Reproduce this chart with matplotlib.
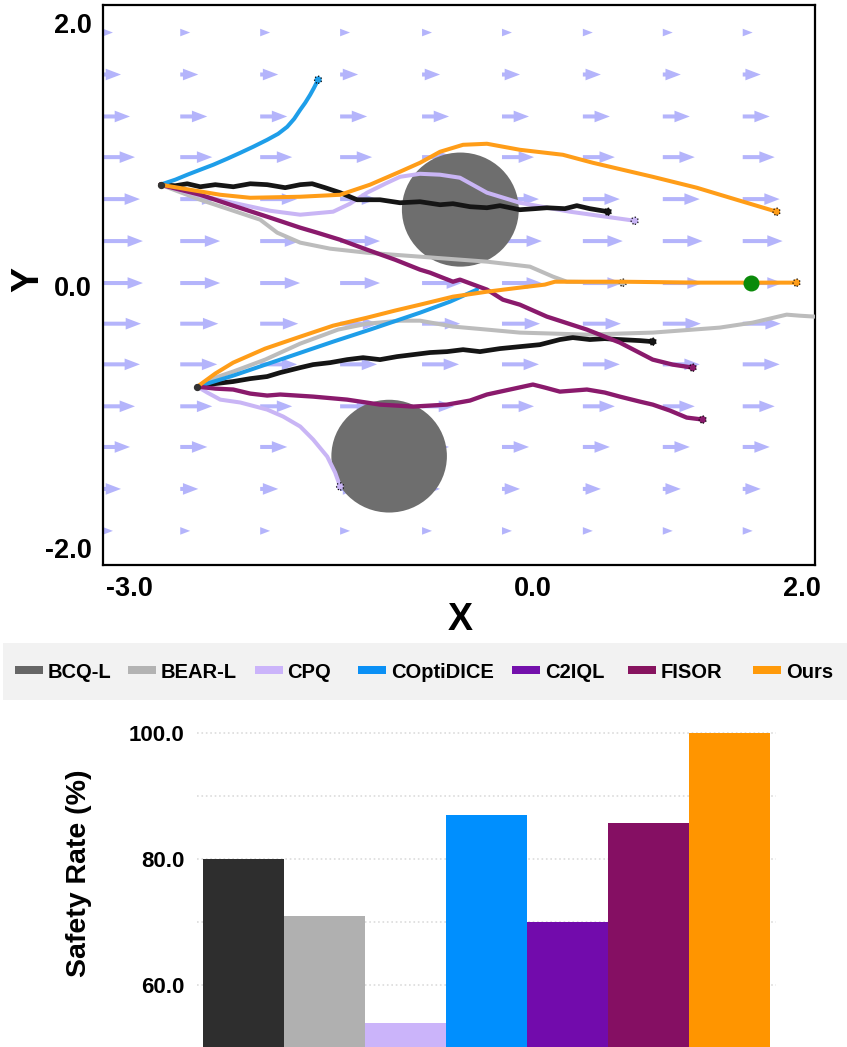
import matplotlib.pyplot as plt
from matplotlib.patches import Circle, Patch, Rectangle

plt.rcParams['font.family'] = ['Liberation Sans', 'DejaVu Sans']
plt.rcParams['font.weight'] = 'bold'

# bar chart data
methods = ['BCQ-L', 'BEAR-L', 'CPQ', 'COptiDICE', 'C2IQL', 'FISOR', 'Ours']
safety_rate = [80.0, 71.0, 54.0, 87.0, 70.0, 85.7, 100.0]
bar_colors = ['#2e2e2e', '#b0b0b0', '#cbb4fa', '#008ffe', '#720bac', '#850f63', '#ff9500']
legend_colors = ['#666666', '#b3b3b3', '#cbb4fa', '#0a90f5', '#7410ac', '#87145f', '#ff9a0a']
legend_left_px = [15, 128, 255, 358, 512, 628, 753]

# line colours of the trajectories
c_bcq = '#151515'
c_bear = '#bcbcbc'
c_cpq = '#c9b5f5'
c_coptidice = '#1e9ee9'
c_fisor = '#8a1a6c'
c_ours = '#ff9d18'

# background flow field (columns, rows, arrow length per row)
field_x = [-3.2, -2.625, -2.03, -1.435, -0.825, -0.23, 0.372, 0.967, 1.562]
field_y = [1.93, 1.61, 1.29, 0.98, 0.66, 0.34, 0.02, -0.29, -0.60, -0.92, -1.23, -1.55, -1.87]
field_speed = [0.074, 0.134, 0.201, 0.238, 0.275, 0.297, 0.297, 0.283, 0.275, 0.238, 0.201, 0.134, 0.074]

start_up = (-2.77, 0.77)
start_low = (-2.50, -0.77)
goal = (1.62, 0.02)
obstacle_x = [-0.54, -1.07]
obstacle_y = [0.58, -1.30]
obstacle_r = [0.435, 0.43]

# trajectories from the upper start
bcq_up_x = [-2.773, -2.662, -2.573, -2.476, -2.364, -2.230, -2.104, -1.978, -1.844, -1.732, -1.643,
            -1.547, -1.435, -1.309, -1.138, -0.989, -0.840, -0.691, -0.595, -0.468, -0.342, -0.245,
            -0.097, 0.015, 0.104, 0.238, 0.327, 0.424, 0.558]
bcq_up_y = [0.770, 0.762, 0.777, 0.754, 0.770, 0.754, 0.777, 0.770, 0.747, 0.770, 0.777,
            0.747, 0.709, 0.655, 0.655, 0.632, 0.640, 0.617, 0.625, 0.602, 0.594, 0.610,
            0.579, 0.587, 0.594, 0.587, 0.610, 0.587, 0.564]
bear_up_x = [-2.773, -2.476, -2.253, -2.030, -1.903, -1.732, -1.509, -1.234, -0.840, -0.342, -0.022,
             0.149, 0.253, 0.669]
bear_up_y = [0.770, 0.655, 0.579, 0.503, 0.404, 0.328, 0.282, 0.251, 0.221, 0.183, 0.145,
             0.069, 0.030, 0.023]
cpq_up_x = [-2.773, -2.476, -2.231, -1.956, -1.732, -1.487, -1.361, -1.234, -1.100, -0.989, -0.840,
            -0.691, -0.543, -0.342, -0.097, 0.275, 0.758]
cpq_up_y = [0.770, 0.686, 0.632, 0.571, 0.541, 0.564, 0.625, 0.709, 0.777, 0.830, 0.853,
            0.846, 0.823, 0.709, 0.632, 0.564, 0.495]
coptidice_up_x = [-2.773, -2.662, -2.572, -2.476, -2.379, -2.275, -2.178, -2.082, -1.978, -1.896,
                  -1.829, -1.777, -1.732, -1.695, -1.658, -1.629, -1.599]
coptidice_up_y = [0.770, 0.808, 0.846, 0.884, 0.922, 0.968, 1.013, 1.059, 1.112, 1.158,
                  1.211, 1.272, 1.341, 1.394, 1.455, 1.509, 1.570]
fisor_up_x = [-2.773, -2.476, -2.231, -1.978, -1.732, -1.606, -1.435, -1.234, -1.026, -0.840, -0.766,
              -0.595, -0.543, -0.342, -0.223, -0.097, 0.104, 0.402, 0.647, 0.892, 1.041, 1.190]
fisor_up_y = [0.770, 0.693, 0.610, 0.526, 0.442, 0.404, 0.350, 0.274, 0.198, 0.122, 0.099,
              0.030, 0.046, -0.030, -0.107, -0.145, -0.236, -0.335, -0.434, -0.564, -0.602, -0.625]
ours_up_x = [-2.773, -2.550, -2.327, -2.104, -1.732, -1.435, -1.212, -0.989, -0.840, -0.691, -0.520,
             -0.342, -0.097, 0.223, 0.446, 0.892, 1.219, 1.517, 1.814]
ours_up_y = [0.770, 0.731, 0.693, 0.670, 0.678, 0.693, 0.770, 0.869, 0.937, 1.021, 1.074,
             1.082, 1.036, 0.998, 0.937, 0.830, 0.747, 0.655, 0.564]

# trajectories from the lower start
bcq_low_x = [-2.498, -2.364, -2.231, -2.104, -1.978, -1.881, -1.732, -1.636, -1.509, -1.383, -1.264,
             -1.138, -1.011, -0.892, -0.766, -0.639, -0.520, -0.394, -0.245, -0.097, 0.052, 0.201,
             0.297, 0.424, 0.535, 0.647, 0.796, 0.892]
bcq_low_y = [-0.770, -0.747, -0.731, -0.709, -0.693, -0.663, -0.625, -0.602, -0.587, -0.564, -0.549,
             -0.564, -0.541, -0.526, -0.510, -0.503, -0.488, -0.503, -0.480, -0.465, -0.450, -0.411,
             -0.396, -0.411, -0.404, -0.411, -0.419, -0.427]
bear_low_x = [-2.498, -2.364, -2.231, -1.993, -1.732, -1.450, -1.234, -0.989, -0.840, -0.595, -0.342,
              -0.097, 0.402, 0.892, 1.390, 1.636, 1.889, 1.986, 2.097]
bear_low_y = [-0.770, -0.701, -0.655, -0.564, -0.442, -0.335, -0.290, -0.267, -0.267, -0.312, -0.335,
              -0.358, -0.373, -0.358, -0.320, -0.282, -0.221, -0.229, -0.236]
cpq_low_x = [-2.498, -2.424, -2.327, -2.178, -1.978, -1.859, -1.732, -1.636, -1.531, -1.472, -1.435]
cpq_low_y = [-0.770, -0.815, -0.869, -0.891, -0.945, -0.998, -1.074, -1.173, -1.303, -1.425, -1.531]
coptidice_low_x = [-2.498, -2.231, -1.881, -1.487, -1.212, -0.840, -0.617, -0.416]
coptidice_low_y = [-0.770, -0.686, -0.564, -0.427, -0.335, -0.206, -0.122, -0.030]
fisor_low_x = [-2.498, -2.364, -2.231, -2.104, -1.978, -1.881, -1.636, -1.383, -1.138, -0.892, -0.639,
               -0.468, -0.342, -0.171, 0.000, 0.089, 0.201, 0.402, 0.535, 0.647, 0.796, 0.892,
               1.019, 1.145, 1.264]
fisor_low_y = [-0.770, -0.785, -0.792, -0.823, -0.838, -0.830, -0.846, -0.869, -0.907, -0.922, -0.907,
               -0.876, -0.830, -0.792, -0.754, -0.777, -0.808, -0.792, -0.815, -0.846, -0.884, -0.907,
               -0.952, -1.006, -1.021]
ours_low_x = [-2.498, -2.364, -2.231, -1.993, -1.732, -1.487, -1.234, -1.026, -0.840, -0.595, -0.342,
              -0.097, 0.089, 0.164, 0.669, 1.242, 1.963]
ours_low_y = [-0.770, -0.670, -0.587, -0.480, -0.389, -0.305, -0.244, -0.190, -0.145, -0.084, -0.046,
              -0.015, 0.008, 0.030, 0.030, 0.023, 0.023]

fig = plt.figure(figsize=(8.47, 10.47), dpi=100)

# ---- trajectory plot ----
ax = fig.add_axes([103 / 847, 1 - 565 / 1047, 712 / 847, 560 / 1047])

qx = [x for y in field_y for x in field_x]
qy = [y for y in field_y for x in field_x]
qu = [s for s in field_speed for x in field_x]
qv = [0.0] * len(qu)
ax.quiver(qx, qy, qu, qv, color='#b4b4fb', angles='xy', scale_units='x', scale=1,
          units='x', width=0.03, headwidth=2.9, headlength=3.8, headaxislength=3.8,
          pivot='tail', zorder=1)

for cx, cy, r in zip(obstacle_x, obstacle_y, obstacle_r):
    ax.add_patch(Circle((cx, cy), r, facecolor='#6e6e6e', edgecolor='none', zorder=2))

lines = [
    (bear_up_x, bear_up_y, c_bear, 2.9, True),
    (bear_low_x, bear_low_y, c_bear, 2.9, False),
    (cpq_up_x, cpq_up_y, c_cpq, 2.9, True),
    (cpq_low_x, cpq_low_y, c_cpq, 2.9, True),
    (bcq_up_x, bcq_up_y, c_bcq, 3.4, True),
    (bcq_low_x, bcq_low_y, c_bcq, 3.4, True),
    (coptidice_up_x, coptidice_up_y, c_coptidice, 2.9, True),
    (coptidice_low_x, coptidice_low_y, c_coptidice, 2.9, False),
    (fisor_up_x, fisor_up_y, c_fisor, 3.1, True),
    (fisor_low_x, fisor_low_y, c_fisor, 3.1, True),
    (ours_low_x, ours_low_y, c_ours, 2.9, True),
    (ours_up_x, ours_up_y, c_ours, 2.9, True),
]
z = 3
for xs, ys, col, lw, end_mark in lines:
    ax.plot(xs, ys, color=col, lw=lw, solid_capstyle='round', solid_joinstyle='round', zorder=z)
    if end_mark:
        ax.scatter([xs[-1]], [ys[-1]], s=26, facecolor=col, edgecolors='k',
                   linewidths=0.9, linestyles=':', zorder=z + 0.5)
    z += 1

ax.scatter([goal[0]], [goal[1]], s=110, color='#0a8a0a', zorder=z)
ax.scatter([start_up[0], start_low[0]], [start_up[1], start_low[1]], s=18,
           color='#333333', zorder=z + 1)

ax.set_xlim(-3.2, 2.1)
ax.set_ylim(-2.13, 2.14)
ax.set_xticks([-3.0, 0.0, 2.0])
ax.set_xticklabels(['-3.0', '0.0', '2.0'])
ax.set_yticks([-2.0, 0.0, 2.0])
ax.set_yticklabels(['-2.0', '0.0', '2.0'])
ax.tick_params(length=0, labelsize=19.5, pad=8)
for s in ax.spines.values():
    s.set_linewidth(1.6)
ax.set_xlabel('X', fontsize=27, fontweight='bold')
ax.set_ylabel('Y', fontsize=27, fontweight='bold')
ax.xaxis.set_label_coords(0.501, -0.066)
ax.yaxis.set_label_coords(-0.079, 0.509)

# ---- legend band ----
fig.patches.append(Rectangle((3 / 847, 1 - 700 / 1047), 1, 57 / 1047, transform=fig.transFigure,
                             facecolor='#f2f2f2', edgecolor='none', zorder=0))
for m, c, left in zip(methods, legend_colors, legend_left_px):
    fig.legend(handles=[Patch(facecolor=c, edgecolor='none', label=m)], loc='center left',
               bbox_to_anchor=(left / 847, 1 - 672 / 1047), frameon=False, fontsize=14.5,
               handlelength=1.4, handleheight=0.25, handletextpad=0.22,
               borderpad=0, borderaxespad=0)

# ---- safety rate bars ----
bx = fig.add_axes([197 / 847, 0, 579 / 847, 323 / 1047])
bx.bar(range(len(methods)), safety_rate, width=1.0, color=bar_colors, zorder=2)
bx.set_xlim(-0.58, 6.58)
bx.set_ylim(50.2, 101.5)
bx.set_yticks([60, 80, 100])
bx.set_yticklabels(['60.0', '80.0', '100.0'])
bx.set_yticks([70, 90], minor=True)
bx.set_xticks([])
bx.grid(axis='y', which='both', linestyle=':', color='#dcdcdc', lw=1.2, zorder=0)
bx.tick_params(axis='y', which='both', length=0, labelsize=16, pad=9)
for s in bx.spines.values():
    s.set_visible(False)
bx.set_ylabel('Safety Rate (%)', fontsize=20.5, fontweight='bold')
bx.yaxis.set_label_coords(-0.181, 0.539)

fig.savefig('out.png', dpi=100)
